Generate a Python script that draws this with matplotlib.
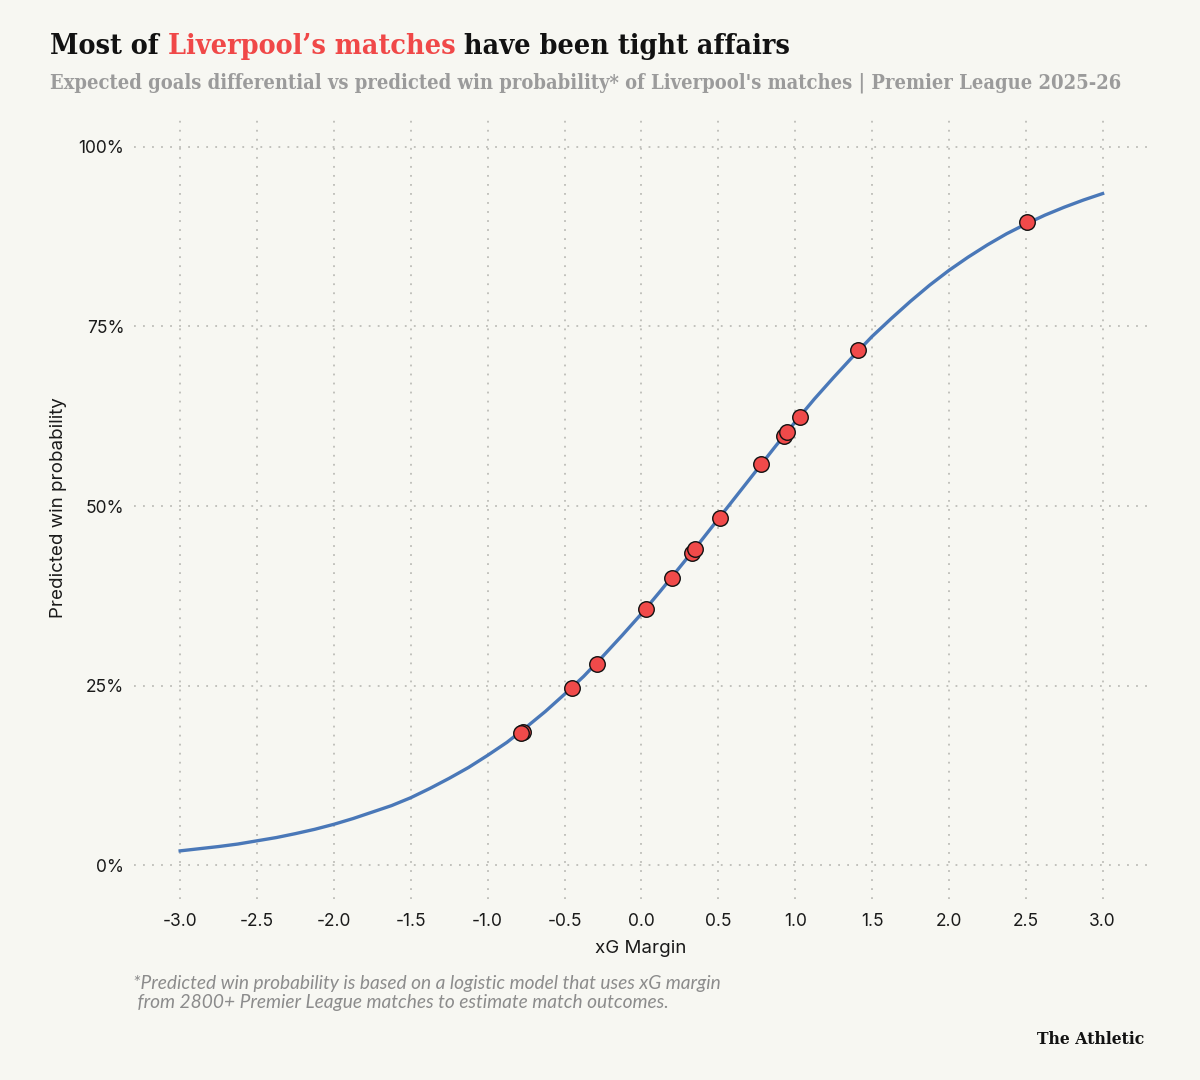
import matplotlib.pyplot as plt
from matplotlib.ticker import FuncFormatter

# logistic model curve, values every 0.125 xG
curve_x = [-3.0, -2.875, -2.75, -2.625, -2.5, -2.375, -2.25, -2.125, -2.0, -1.875, -1.75, -1.625,
           -1.5, -1.375, -1.25, -1.125, -1.0, -0.875, -0.75, -0.625, -0.5, -0.375, -0.25, -0.125,
           0.0, 0.125, 0.25, 0.375, 0.5, 0.625, 0.75, 0.875, 1.0, 1.125, 1.25, 1.375,
           1.5, 1.625, 1.75, 1.875, 2.0, 2.125, 2.25, 2.375, 2.5, 2.625, 2.75, 2.875, 3.0]
curve_y = [2.0, 2.3, 2.6, 2.95, 3.4, 3.85, 4.4, 5.0, 5.7, 6.5, 7.4, 8.3,
           9.4, 10.7, 12.1, 13.6, 15.3, 17.1, 19.2, 21.4, 23.8, 26.3, 29.1, 32.0,
           35.0, 38.2, 41.5, 44.8, 48.2, 51.6, 55.0, 58.4, 61.7, 64.9, 67.9, 70.8,
           73.6, 76.1, 78.5, 80.75, 82.8, 84.65, 86.35, 87.9, 89.25, 90.5, 91.6, 92.6, 93.5]

# Liverpool matches: xG margin and predicted win probability (%)
match_xg = [-0.77, -0.78, -0.45, -0.29, 0.03, 0.20, 0.33, 0.35, 0.51, 0.78, 0.93, 0.95, 1.03, 1.41, 2.51]
match_wp = [18.6, 18.4, 24.7, 28.0, 35.7, 40.0, 43.4, 44.0, 48.4, 55.8, 59.8, 60.3, 62.4, 71.7, 89.6]

x_ticks = [-3.0, -2.5, -2.0, -1.5, -1.0, -0.5, 0.0, 0.5, 1.0, 1.5, 2.0, 2.5, 3.0]
y_ticks = [0, 25, 50, 75, 100]

bg = '#f7f7f2'
sans = 'Inter'
slab = 'DejaVu Serif'

fig = plt.figure(figsize=(12, 10.8), dpi=100, facecolor=bg)
ax = fig.add_axes([0.1117, 0.1676, 0.8443, 0.725], facecolor=bg)

ax.plot(curve_x, curve_y, color='#4a78b8', lw=2.4, zorder=2, solid_joinstyle='round')
ax.scatter(match_xg, match_wp, s=125, color='#f04a4a', edgecolor='#111111', lw=1.0, zorder=3)

ax.set_xlim(-3.3, 3.29)
ax.set_ylim(-4.7, 104.3)
ax.set_xticks(x_ticks)
ax.set_yticks(y_ticks)
ax.xaxis.set_major_formatter(FuncFormatter(lambda v, p: f'{v:.1f}'))
ax.yaxis.set_major_formatter(FuncFormatter(lambda v, p: f'{v:.0f}%'))
ax.tick_params(length=0, labelsize=12.5, labelcolor='#1a1a1a')
ax.tick_params(axis='x', pad=10)
ax.tick_params(axis='y', pad=7)
for lab in ax.get_xticklabels() + ax.get_yticklabels():
    lab.set_fontfamily(sans)
ax.grid(True, color='#bdbdb8', lw=1.3, ls=(0, (1, 4)))
for s in ax.spines.values():
    s.set_visible(False)

ax.set_xlabel('xG Margin', fontsize=13.5, family=sans, color='#1a1a1a', labelpad=7)
ax.set_ylabel('Predicted win probability', fontsize=13.5, family=sans, color='#1a1a1a', labelpad=8)

# title with a red highlight, pieced together
fig.canvas.draw()
r = fig.canvas.get_renderer()
x0 = 50 / 1200
parts = [('Most of ', '#121212'), ('Liverpool\u2019s matches', '#f04848'), (' have been tight affairs', '#121212')]
for txt, col in parts:
    t = fig.text(x0, 1 - 46 / 1080, txt, fontsize=20.5, family=slab, weight='bold',
                 stretch='condensed', color=col, va='center', ha='left')
    bb = t.get_window_extent(renderer=r)
    x0 += bb.width / 1200

fig.text(50 / 1200, 1 - 83 / 1080,
         "Expected goals differential vs predicted win probability* of Liverpool's matches | Premier League 2025-26",
         fontsize=14.45, family=slab, weight='bold', stretch='condensed', color='#9b9b9b',
         va='center', ha='left')

fig.text(133 / 1200, 1 - 993 / 1080,
         '*Predicted win probability is based on a logistic model that uses xG margin\n from 2800+ Premier League matches to estimate match outcomes.',
         fontsize=13.8, family='Lato', style='italic', color='#8c8c8c', va='center', ha='left',
         linespacing=1.2)

fig.text(1144 / 1200, 1 - 1039 / 1080, 'The Athletic', fontsize=12.5, family=slab, weight='bold',
         stretch='condensed', color='#121212', va='center', ha='right')

fig.savefig('out.png', dpi=100, facecolor=bg)
